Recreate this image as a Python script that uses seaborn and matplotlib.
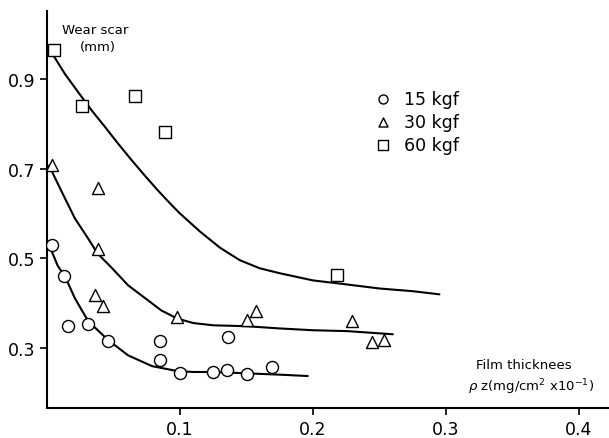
import matplotlib
matplotlib.use("Agg")
import pandas as pd
import matplotlib.pyplot as plt
import seaborn as sns

# measured points (film thickness, wear scar)
x15 = [0.004, 0.013, 0.016, 0.031, 0.046, 0.085, 0.085, 0.100, 0.125, 0.135, 0.136, 0.150, 0.169]
y15 = [0.529, 0.460, 0.349, 0.353, 0.316, 0.316, 0.273, 0.244, 0.247, 0.251, 0.324, 0.242, 0.258]
x30 = [0.004, 0.038, 0.038, 0.036, 0.042, 0.098, 0.150, 0.157, 0.229, 0.244, 0.253]
y30 = [0.709, 0.656, 0.522, 0.418, 0.393, 0.369, 0.362, 0.382, 0.360, 0.313, 0.318]
x60 = [0.005, 0.026, 0.066, 0.089, 0.218]
y60 = [0.964, 0.840, 0.862, 0.782, 0.462]

# fitted curves
cx15 = [0.0, 0.002, 0.008, 0.0135, 0.021, 0.031, 0.046, 0.061, 0.079, 0.098,
        0.110, 0.125, 0.150, 0.175, 0.196]
cy15 = [0.535, 0.527, 0.484, 0.460, 0.411, 0.360, 0.318, 0.284, 0.260, 0.249,
        0.247, 0.247, 0.244, 0.241, 0.238]
cx30 = [0.0, 0.002, 0.011, 0.021, 0.031, 0.038, 0.049, 0.061, 0.074, 0.086,
        0.098, 0.110, 0.125, 0.150, 0.175, 0.200, 0.226, 0.260]
cy30 = [0.708, 0.704, 0.649, 0.589, 0.544, 0.511, 0.478, 0.440, 0.411, 0.384,
        0.366, 0.356, 0.351, 0.349, 0.344, 0.340, 0.338, 0.331]
cx60 = [0.0, 0.004, 0.0135, 0.0233, 0.0338, 0.0436, 0.0534, 0.0639, 0.0737,
        0.0835, 0.094, 0.100, 0.115, 0.130, 0.145, 0.160, 0.175, 0.200, 0.220,
        0.250, 0.275, 0.295]
cy60 = [0.971, 0.956, 0.911, 0.871, 0.829, 0.793, 0.756, 0.718, 0.684,
        0.651, 0.618, 0.600, 0.560, 0.524, 0.496, 0.478, 0.467, 0.451, 0.444,
        0.433, 0.427, 0.420]

loads = ["15 kgf", "30 kgf", "60 kgf"]
markers = ["o", "^", "s"]

sns.set_style("ticks", {"text.color": "black", "axes.labelcolor": "black",
                        "xtick.color": "black", "ytick.color": "black",
                        "axes.edgecolor": "black"})
plt.rcParams["font.family"] = ["DejaVu Sans"]

fig = plt.figure(figsize=(6.09, 4.39), dpi=100)
ax = fig.add_axes([0.0772, 0.0683, 0.923, 0.904])

pts = [(x15, y15), (x30, y30), (x60, y60)]
curves = [(cx15, cy15), (cx30, cy30), (cx60, cy60)]

for (px, py), (lx, ly), lab, mk in zip(pts, curves, loads, markers):
    sns.lineplot(x=lx, y=ly, ax=ax, color="black", lw=1.5, sort=False,
                 legend=False, zorder=2)
    sns.scatterplot(x=px, y=py, ax=ax, marker=mk, s=75, facecolor="white",
                    edgecolor="black", linewidth=1.0, label=lab, zorder=3)

ax.set_xlim(0, 0.4226)
ax.set_ylim(0.1667, 1.051)
ax.set_xticks([0.1, 0.2, 0.3, 0.4])
ax.set_xticklabels(["0.1", "0.2", "0.3", "0.4"])
ax.set_yticks([0.3, 0.5, 0.7, 0.9])
ax.set_yticklabels(["0.3", "0.5", "0.7", "0.9"])
ax.tick_params(labelsize=12.5, length=5, width=1.2, colors="black")
for side in ["top", "right"]:
    ax.spines[side].set_visible(False)
for side in ["left", "bottom"]:
    ax.spines[side].set_linewidth(1.5)
ax.set_xlabel("")
ax.set_ylabel("")

ax.text(0.0113, 1.011, "Wear scar", fontsize=9.5, ha="left", va="center", color="black")
ax.text(0.0248, 0.973, "(mm)", fontsize=9.5, ha="left", va="center", color="black")
ax.text(0.3226, 0.264, "Film thicknees", fontsize=9.5, ha="left", va="center", color="black")
ax.text(0.3165, 0.216, r"$\rho$ z(mg/cm$^2$ x10$^{-1}$)", fontsize=9.5,
        ha="left", va="center", color="black")

leg = ax.legend(loc="upper left", bbox_to_anchor=(0.555, 0.82), frameon=False,
                fontsize=12.5, markerscale=0.75, handletextpad=0.2,
                labelspacing=0.3, borderaxespad=0, labelcolor="black")

fig.savefig("out.png", dpi=100)
